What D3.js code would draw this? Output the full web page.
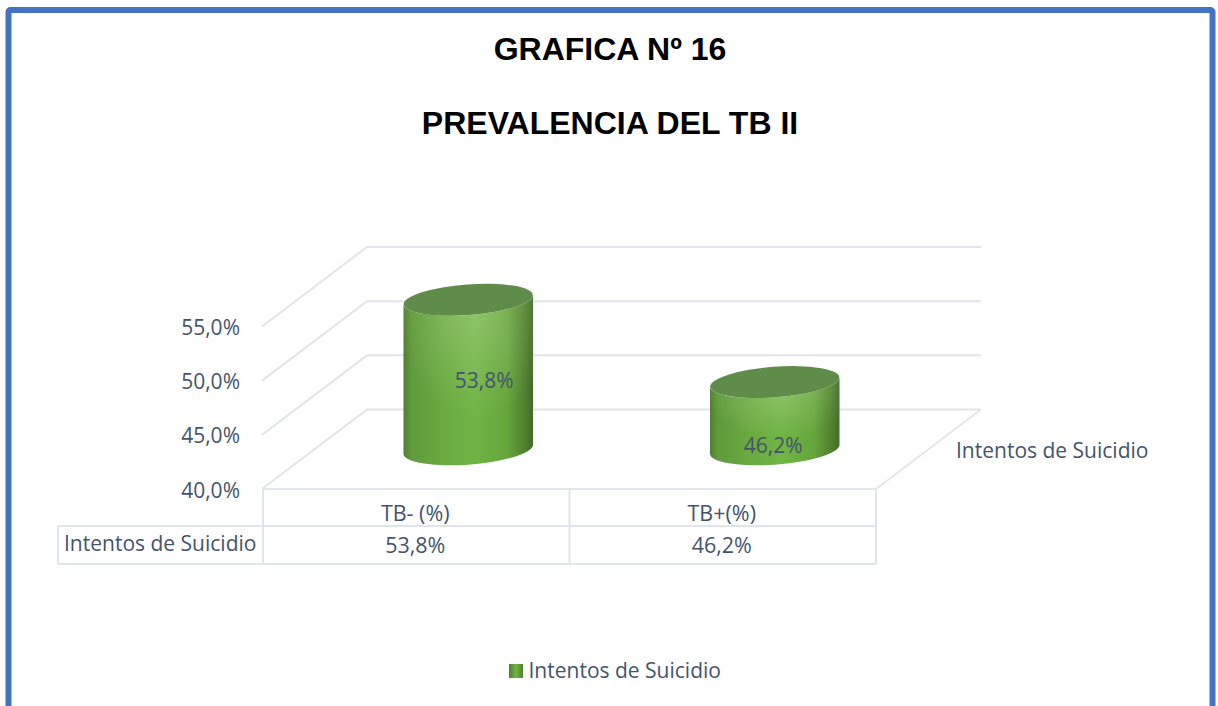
<!DOCTYPE html>
<html>
<head>
<meta charset="utf-8">
<script src="https://cdn.jsdelivr.net/npm/d3@7/dist/d3.min.js"></script>
<style>
html,body{margin:0;padding:0;background:#fff;overflow:hidden}
svg{display:block}
text{font-family:"Open Sans","Noto Sans",sans-serif;fill:#44546a}
.title{font-family:"Liberation Sans",Arial,sans-serif;font-weight:700;fill:#000}
</style>
</head>
<body>
<svg id="c" width="1218" height="706"></svg>
<script>
const titleLines = ["GRAFICA Nº 16", "PREVALENCIA DEL TB II"];
const categories = ["TB- (%)", "TB+(%)"];
const seriesName = "Intentos de Suicidio";
const values = [53.8, 46.2];
const valueLabels = ["53,8%", "46,2%"];
const yTicks = [40, 45, 50, 55];

const svg = d3.select("#c");
const grid = "#e2e4ec", tableLine = "#e0e5ec";

// page frame
svg.append("rect").attr("x",8.5).attr("y",10).attr("width",1204).attr("height",720)
  .attr("rx",2).attr("fill","#fff").attr("stroke","#4472c4").attr("stroke-width",6);

// titles
svg.selectAll("text.title").data(titleLines).join("text").attr("class","title")
  .attr("x",610).attr("y",(d,i)=>[60,134][i]).attr("text-anchor","middle")
  .attr("font-size",32).text(d=>d);

// scales
const frontLeft = 263, frontRight = 876, floorY = 489, depthX = 104, depthY = 79.5;
const x = d3.scaleBand().domain(categories).range([frontLeft, frontRight]);
const y = d3.scaleLinear().domain([40,55]).range([floorY, 326.5]);
const gridG = svg.append("g").attr("fill","none").attr("stroke",grid).attr("stroke-width",2);

// back wall and side wall grid
yTicks.forEach(t=>{
  gridG.append("path").attr("d",d3.line()([[frontLeft-1,y(t)],[frontLeft+depthX,y(t)-depthY],[frontRight+depthX+1,y(t)-depthY]]));
});
// floor: right edge
gridG.append("path").attr("d",d3.line()([[frontRight+depthX+1,floorY-depthY],[frontRight,floorY]])).attr("stroke-width",1.6);

// y axis labels
const yAxis = d3.axisLeft(y).tickValues(yTicks).tickSize(0).tickPadding(0)
  .tickFormat(d=>d3.format(".1f")(d).replace(".",",")+"%");
const ya = svg.append("g").attr("transform","translate(240,0.6)").call(yAxis);
ya.select(".domain").remove();
ya.selectAll("text").attr("font-size",21).attr("font-family",null).attr("fill","#44546a").attr("dy","0.36em");

// gradients
const defs = svg.append("defs");
const side = defs.append("linearGradient").attr("id","side");
[[0,"#4f8030"],[0.06,"#5f9a3c"],[0.3,"#6aaa40"],[0.55,"#70b544"],[0.8,"#66a63c"],[0.94,"#507f2f"],[1,"#44692a"]]
  .forEach(s=>side.append("stop").attr("offset",s[0]).attr("stop-color",s[1]));
const glow = defs.append("radialGradient").attr("id","glow").attr("cx",0.55).attr("cy",0.08).attr("r",0.62);
glow.append("stop").attr("offset",0).attr("stop-color","#c8e0b0").attr("stop-opacity",0.34);
glow.append("stop").attr("offset",1).attr("stop-color","#c8e0b0").attr("stop-opacity",0);
const swatch = defs.append("linearGradient").attr("id","swatch");
[[0,"#4f8030"],[0.5,"#70b544"],[1,"#4f8030"]]
  .forEach(s=>swatch.append("stop").attr("offset",s[0]).attr("stop-color",s[1]));

// cylinders
const rx = x.bandwidth()*0.2113, ry = 15.3, tilt = 4.2*Math.PI/180;
const sinT = Math.sin(tilt), edgeDy = (rx*rx-ry*ry)*sinT*Math.cos(tilt)/Math.hypot(rx*Math.cos(tilt),ry*sinT);
const cx = c => x(c)+x.bandwidth()/2+depthX/2;
const base = floorY-depthY/2;
const topY = v => y(v)-depthY/2;
const bodyPath = d => {
  const c = cx(d.cat), t = topY(d.v), b = base, deg = -4.2;
  return `M${c-rx},${t+edgeDy}L${c-rx},${b+edgeDy}A${rx},${ry} ${deg} 0 0 ${c+rx},${b-edgeDy}L${c+rx},${t-edgeDy}A${rx},${ry} ${deg} 0 1 ${c-rx},${t+edgeDy}Z`;
};
const rows = categories.map((cat,i)=>({cat,v:values[i],label:valueLabels[i]}));
const bars = svg.selectAll("g.bar").data(rows).join("g").attr("class","bar");
bars.append("path").attr("d",bodyPath).attr("fill","url(#side)");
bars.append("path").attr("d",bodyPath).attr("fill","url(#glow)");
bars.append("ellipse").attr("cx",0).attr("cy",0).attr("rx",rx).attr("ry",ry)
  .attr("transform",d=>`translate(${cx(d.cat)},${topY(d.v)}) rotate(-4.2)`).attr("fill","#5f8c49");
bars.append("text").attr("x",d=>cx(d.cat)+(d.v>50?16:-1.5)).attr("y",d=>d.v>50?380.5:445.5)
  .attr("dy","0.36em").attr("text-anchor","middle").attr("font-size",21).text(d=>d.label);

// right series label
svg.append("text").attr("x",956).attr("y",450.5).attr("dy","0.36em").attr("font-size",21).text(seriesName);

// data table
const rowTop = floorY, rowMid = 526, rowBot = 564, tableLeft = 58;
const tbl = svg.append("g").attr("fill","none").attr("stroke",tableLine).attr("stroke-width",2);
tbl.append("path").attr("d",d3.line()([[frontLeft,rowTop],[frontRight,rowTop]]));
tbl.append("path").attr("d",d3.line()([[tableLeft,rowMid],[frontRight,rowMid]]));
tbl.append("path").attr("d",d3.line()([[tableLeft,rowBot],[frontRight,rowBot]]));
tbl.append("path").attr("d",d3.line()([[tableLeft,rowMid],[tableLeft,rowBot]]));
[frontLeft, ...categories.map(c=>x(c)+x.bandwidth())].forEach(px=>{
  tbl.append("path").attr("d",d3.line()([[px,rowTop],[px,rowBot]]));
});
svg.selectAll("text.cat").data(categories).join("text").attr("class","cat")
  .attr("x",c=>x(c)+x.bandwidth()/2-1).attr("y",513).attr("dy","0.36em")
  .attr("text-anchor","middle").attr("font-size",21.5).text(c=>c);
svg.selectAll("text.val").data(rows).join("text").attr("class","val")
  .attr("x",d=>x(d.cat)+x.bandwidth()/2-1).attr("y",545).attr("dy","0.36em")
  .attr("text-anchor","middle").attr("font-size",21.5).text(d=>d.label);
svg.append("text").attr("x",64).attr("y",543).attr("dy","0.36em").attr("font-size",21).text(seriesName);

// legend
svg.append("rect").attr("x",509).attr("y",664).attr("width",14).attr("height",14).attr("fill","url(#swatch)");
svg.append("text").attr("x",528.5).attr("y",670.5).attr("dy","0.36em").attr("font-size",21).text(seriesName);
</script>
</body>
</html>
